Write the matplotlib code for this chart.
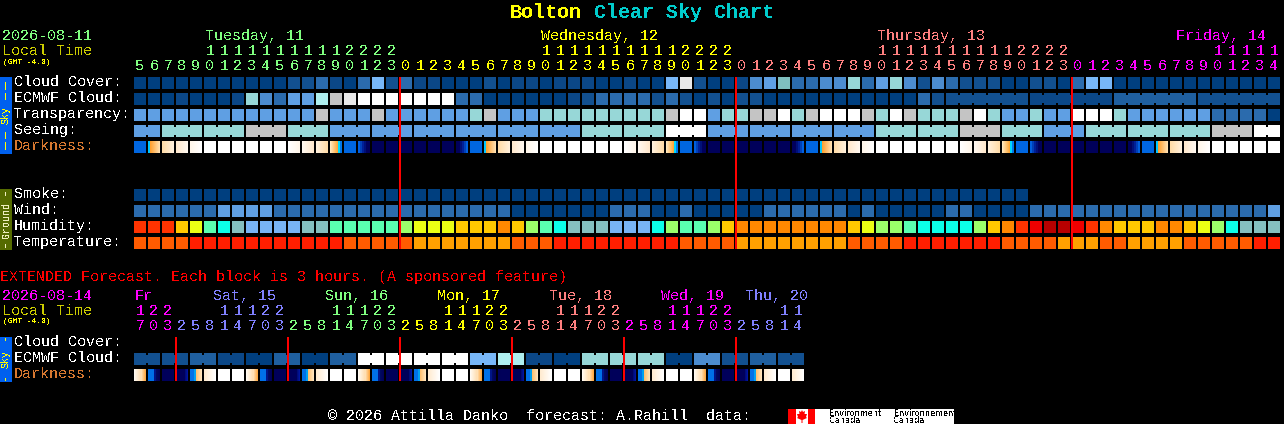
import numpy as np
import matplotlib
matplotlib.use('Agg')
import matplotlib.pyplot as plt
from matplotlib.colors import to_rgb
from matplotlib.patches import Polygon

plt.rcParams['text.antialiased'] = False

# ---- sky colours, darkest blue (clear) to white (bad) ----
sky_colors = {'A': '#003F7F', 'B': '#0B4787', 'C': '#125090', 'Q': '#1F5F9F', 'D': '#2B6BAD',
              'E': '#4C8CCF', 'F': '#5F9FE3', 'G': '#78B7F8', 'H': '#7FBFBF', 'I': '#97D7D7',
              'J': '#AEEEEE', 'K': '#C4C4C4', 'L': '#E9E9E9', 'M': '#FFFFFF'}
humidity_colors = {'R': '#FF3300', 'Y': '#FFC800', 'Z': '#EBFF14', 'M': '#5AFFB0', 'C': '#0CFFE8',
                   'T': '#85BFBF', 'B': '#78B4F5', 'L': '#9BFF6A', 'O': '#FF8800', 'E': '#EE0000',
                   'D': '#B80000'}
temp_colors = {'o': '#FF5B00', 'R': '#FF1E00', 'A': '#FFA000'}

# ---- main forecast, one letter per hour ----
cloud_cover = ('AAAAAAAAAAA' 'CCDBADGCDB'
               'BAAACABBABBBAABAAGLCAABEFHDDEEI'
               'DFIECEDCCCAACCADGG' 'AAAAAAAAAAAA')
ecmwf_cloud = ('AAABAAAB' 'IEDFFJKLMMMMM' 'MMDD' 'AAAAAA' 'BCDDDDCDCACACC'
               'AAAAAAA' 'AAAA' 'DC' 'CCCCCC' 'BBBBBB' 'QQQQQQ' 'CCCCCC')
ecmwf_groups = [1] * 58 + [6, 6, 6, 6]
transparency = ('FFFFFFFFFFFFF' 'K' 'FFF' 'K' 'FFFFFF' 'IK' 'FFF' 'IIIIIIIII'
                'KMMFIIKKMIKMMM' 'KIMKIIIKMIFFIFFMMMI' 'FFFFFF' 'DDDD' 'A')
seeing_groups = [2] + [3] * 26 + [2]
seeing_values = 'FIIKIFFFFFFIIMFFFFIIKIFIIIKM'
darkness = ['b', 'u', 'c3', 'c2', 'c1', 'W', 'W', 'W', 'W', 'W', 'W', 'd1', 'd2', 'd3', 's', 'b', 'a',
            'n', 'n', 'n', 'n', 'n', 'n', 'r',
            'b', 'u', 'c3', 'c2', 'c1', 'W', 'W', 'W', 'W', 'W', 'W', 'd1', 'd2', 'd3', 's', 'b', 'a',
            'n', 'n', 'n', 'n', 'n', 'n', 'r',
            'b', 'u', 'c3', 'c2', 'c1', 'W', 'W', 'W', 'W', 'W', 'W', 'd1', 'd2', 'd3', 's', 'b', 'a',
            'n', 'n', 'n', 'n', 'n', 'n', 'r',
            'b', 'u', 'c3', 'c2', 'c1', 'W', 'W', 'W', 'W', 'W']
smoke = 'A' * 64
wind = ('DDDDDD' 'FFFF' 'DDDDDDDDDDDDDDDDD' 'AAAAAAA' 'DDD' 'AA' 'D' 'AAAAA' 'DDDDDD' 'A' 'D'
        'AAAAA' 'DD' 'AAAA' 'DDDDDDDDDDDDDDDDD' 'F')
humidity = ('RRRYZMCTBBBBTTMMMMMLZ'
            'ZZYYYOYLMCTTTBBBCLMMLYOOOOOOOOY'
            'ZLLMCCCCLYOREDDEROYYYOOYZLCTTT')
temperature = ('oooo' 'RRRRRRRRRRR' 'ooooo' 'AAAAAAA' 'ooo' 'RRRRRRRRR' 'oooo' 'AAAAAAAA' 'oooo'
               'RRRRRRR' 'oooo' 'AAA' 'oo' 'AAAA' 'ooooo' 'RR')

# ---- hours and day headers ----
main_hours = list(range(5, 24)) + list(range(24)) + list(range(24)) + list(range(15))
main_hour_days = [0] * 19 + [1] * 24 + [2] * 24 + [3] * 15
main_days = ['Tuesday, 11', 'Wednesday, 12', 'Thursday, 13', 'Friday, 14']
main_day_x = [205, 541, 877, 1176]
main_day_colors = ['#80FF80', '#FFFF00', '#FF8080', '#FF00FF']
midnight_idx = [19, 43, 67]

# ---- extended forecast, one letter per 3 hour block ----
ext_ecmwf = 'CCQBAQAQMMMMGJBAIIIAECQC'
ext_darkness = ['e', 'f', 'n', 'g', 'h', 'i', 'W', 'W',
                'e', 'f', 'n', 'g', 'h', 'i', 'W', 'W',
                'e', 'f', 'n', 'g', 'h', 'i', 'W', 'W',
                'e', 'f', 'n', 'g', 'h', 'i', 'W', 'W',
                'e', 'f', 'n', 'g', 'h', 'i', 'W', 'W',
                'e', 'f', 'n', 'g', 'h', 'i', 'W', 'i']
ext_hours = [17, 20, 23,
             2, 5, 8, 11, 14, 17, 20, 23,
             2, 5, 8, 11, 14, 17, 20, 23,
             2, 5, 8, 11, 14, 17, 20, 23,
             2, 5, 8, 11, 14, 17, 20, 23,
             2, 5, 8, 11, 14, 17, 20, 23,
             2, 5, 8, 11, 14]
ext_hour_days = [0] * 3 + [1] * 8 + [2] * 8 + [3] * 8 + [4] * 8 + [5] * 8 + [6] * 5
ext_days = ['Fr', 'Sat, 15', 'Sun, 16', 'Mon, 17', 'Tue, 18', 'Wed, 19', 'Thu, 20']
ext_day_x = [135, 213, 325, 437, 549, 661, 745]
ext_day_colors = ['#FF00FF', '#8080FF', '#80FF80', '#FFFF00', '#FF8080', '#FF00FF', '#8080FF']
ext_midnight_idx = [3, 11, 19, 27, 35, 43]

# ---- darkness block shading: (start px, end px, left colour, right colour) ----
shades = {
    'W': [(0, 12, '#FFFFFF', '#FFFFFF')],
    'n': [(0, 12, '#00005A', '#00005A')],
    'b': [(0, 12, '#0066E0', '#0066E0')],
    'u': [(0, 2, '#00C8FF', '#00C8FF'), (2, 12, '#FFA030', '#FFE0B0')],
    's': [(0, 8, '#FFE8BE', '#FFA838'), (8, 10, '#00D8FF', '#00D8FF'), (10, 12, '#0078EC', '#0078EC')],
    'c3': [(0, 12, '#FFDCA8', '#FFF0DC')],
    'c2': [(0, 12, '#FFE8CC', '#FFF8F0')],
    'c1': [(0, 12, '#FFF6EA', '#FFFFFF')],
    'd1': [(0, 12, '#FFFFFF', '#FFF6EA')],
    'd2': [(0, 12, '#FFF8F0', '#FFE8CC')],
    'd3': [(0, 12, '#FFF0DC', '#FFDCA8')],
    'a': [(0, 2, '#0060E0', '#0060E0'), (2, 4, '#0040B8', '#0040B8'), (4, 6, '#002098', '#002098'),
          (6, 8, '#001078', '#001078'), (8, 12, '#00005E', '#00005A')],
    'r': [(0, 4, '#00005A', '#00005E'), (4, 6, '#001078', '#001078'), (6, 8, '#002098', '#002098'),
          (8, 10, '#0040B8', '#0040B8'), (10, 12, '#0060E0', '#0060E0')],
    'e': [(0, 7, '#FFFAF2', '#FFE0B5'), (7, 12, '#FFE0B5', '#FFAA44')],
    'f': [(0, 6, '#0070E8', '#0070E8'), (6, 8, '#001488', '#001488'), (8, 12, '#000A60', '#00005A')],
    'g': [(0, 9, '#00005A', '#00005A'), (9, 12, '#000C78', '#0014A0')],
    'h': [(0, 4, '#0070E8', '#0070E8'), (4, 6, '#00A0F0', '#00A0F0'), (6, 12, '#FFC070', '#FFE4BC')],
    'i': [(0, 12, '#FFEBD0', '#FFFFFF')],
}

X0 = 134
PITCH = 14
BOX = 12
FONT = 'Liberation Mono'
FS = 10.8


def block_x(i):
    return X0 + PITCH * i


def draw_row(ax, values, colors, y, groups=None):
    xs = [block_x(i) for i in range(len(values))]
    cols = [colors[v] for v in values]
    ax.bar(xs, [BOX] * len(xs), width=BOX, bottom=y, color=cols, align='edge',
           linewidth=0, antialiased=False)
    if groups is None:
        return
    # blocks of the same model step are joined, with a notch above and below
    i = 0
    for g in groups:
        for k in range(i, i + g - 1):
            ax.bar(block_x(k) + BOX, 8, width=PITCH - BOX, bottom=y + 2, color=colors[values[k]],
                   align='edge', linewidth=0, antialiased=False)
        i += g


def draw_darkness(ax, codes, y):
    for i, code in enumerate(codes):
        strip = np.zeros((1, BOX, 3))
        for a, b, c1, c2 in shades[code]:
            w = np.linspace(0, 1, b - a)[:, None]
            strip[0, a:b] = (1 - w) * np.array(to_rgb(c1)) + w * np.array(to_rgb(c2))
        x = block_x(i)
        ax.imshow(strip, extent=(x, x + BOX, y + BOX, y), aspect='auto', interpolation='nearest', zorder=2)


def label(ax, x, y, s, color='white', size=FS, **kw):
    ax.text(x, y, s, color=color, fontsize=size, family=FONT, va='baseline', **kw)


def draw_hours(ax, hours, day_idx, day_colors, y_tens, y_ones):
    for i, h in enumerate(hours):
        cx = block_x(i) + 6
        col = day_colors[day_idx[i]]
        if h >= 10:
            label(ax, cx, y_tens, str(h // 10), col, ha='center')
        label(ax, cx, y_ones, str(h % 10), col, ha='center')


def side_bar(ax, y0, y1, color, text, text_color, dashes):
    ax.bar(0, y1 - y0, width=12, bottom=y0, color=color, align='edge', linewidth=0, antialiased=False)
    ax.text(6, (y0 + y1) / 2, text, color=text_color, fontsize=7.2, family=FONT, rotation=90,
            ha='center', va='center', zorder=4)
    for a, b in dashes:
        ax.bar(5, b - a, width=1, bottom=a, color=text_color, align='edge', linewidth=0,
               antialiased=False, zorder=4)


f = plt.figure(figsize=(12.84, 4.24), dpi=100, facecolor='black')
ax = f.add_axes([0, 0, 1, 1])
ax.set_facecolor('black')
ax.axis('off')

# ----title----
label(ax, 510, 18, 'Bolton', '#FFFF00', 14.4, fontweight='bold')
label(ax, 594, 18, 'Clear Sky Chart', '#00CCCC', 14.4, fontweight='bold')

# ----main header----
label(ax, 2, 40, '2026-08-11', '#80FF80')
label(ax, 2, 55, 'Local Time', '#CCCC00')
label(ax, 3, 64, '(GMT -4.0)', '#FFFF00', 5.7)
for name, x, col in zip(main_days, main_day_x, main_day_colors):
    label(ax, x, 40, name, col)
draw_hours(ax, main_hours, main_hour_days, main_day_colors, 55, 70)

# ----sky rows----
sky_rows = [('Cloud Cover:', 77), ('ECMWF Cloud:', 93), ('Transparency:', 109), ('Seeing:', 125)]
for name, y in sky_rows:
    label(ax, 14, y + 9, name)
label(ax, 14, 150, 'Darkness:', '#D87830')
draw_row(ax, cloud_cover, sky_colors, 77)
draw_row(ax, ecmwf_cloud, sky_colors, 93, ecmwf_groups)
draw_row(ax, transparency, sky_colors, 109)
seeing = ''.join(v * g for v, g in zip(seeing_values, seeing_groups))
draw_row(ax, seeing, sky_colors, 125, seeing_groups)
draw_darkness(ax, darkness, 141)
side_bar(ax, 77, 154, '#0060EE', 'Sky', '#FFFF00', [(82, 90), (93, 100), (132, 139), (142, 150)])

# ----ground rows----
ground_rows = [('Smoke:', 189), ('Wind:', 205), ('Humidity:', 221), ('Temperature:', 237)]
for name, y in ground_rows:
    label(ax, 14, y + 9, name)
draw_row(ax, smoke, sky_colors, 189)
draw_row(ax, wind, sky_colors, 205)
draw_row(ax, humidity, humidity_colors, 221)
draw_row(ax, temperature, temp_colors, 237)
side_bar(ax, 189, 250, '#556B00', 'Ground', '#F0F0C0', [(192, 196), (244, 248)])

# midnight lines
for i in midnight_idx:
    ax.bar(block_x(i) - 1, 172, width=2, bottom=77, color='#FF0000', align='edge', linewidth=0,
           antialiased=False, zorder=3)

# ----extended forecast----
label(ax, 0, 281, 'EXTENDED Forecast. Each block is 3 hours. (A sponsored feature)', '#FF0000')
label(ax, 2, 300, '2026-08-14', '#FF00FF')
label(ax, 2, 315, 'Local Time', '#CCCC00')
label(ax, 3, 323, '(GMT -4.0)', '#FFFF00', 5.7)
for name, x, col in zip(ext_days, ext_day_x, ext_day_colors):
    label(ax, x, 300, name, col)
draw_hours(ax, ext_hours, ext_hour_days, ext_day_colors, 315, 330)
label(ax, 14, 346, 'Cloud Cover:')
label(ax, 14, 362, 'ECMWF Cloud:')
label(ax, 14, 378, 'Darkness:', '#D87830')
ext_cloud = ''.join(v * 2 for v in ext_ecmwf)
draw_row(ax, ext_cloud, sky_colors, 353, [2] * len(ext_ecmwf))
draw_darkness(ax, ext_darkness, 369)
side_bar(ax, 337, 382, '#0060EE', 'Sky', '#FFFF00', [(338, 341), (378, 381)])
for i in ext_midnight_idx:
    ax.bar(block_x(i) - 1, 44, width=2, bottom=337, color='#FF0000', align='edge', linewidth=0,
           antialiased=False, zorder=3)

# ----footer and logo----
label(ax, 328, 420, '\u00a9 2026 Attilla Danko  forecast: A.Rahill  data:', 'white')
ax.bar(788, 15, width=166, bottom=409, color='white', align='edge', linewidth=0, antialiased=False)
ax.bar([788, 808], [15, 15], width=[8, 7], bottom=409, color='#FF0000', align='edge', linewidth=0,
       antialiased=False)
leaf = [(802, 410), (803, 412), (805, 411), (804.5, 414), (807, 414), (806, 417), (807, 418),
        (802.5, 420), (802.5, 423), (801.5, 423), (801.5, 420), (797, 418), (798, 417), (797, 414),
        (799.5, 414), (799, 411), (801, 412)]
ax.add_patch(Polygon(leaf, closed=True, facecolor='#FF0000', edgecolor='none', zorder=3))
for x, word in [(829, 'Environment'), (894, 'Environnement')]:
    ax.text(x, 416, word, color='black', fontsize=5.9, family='DejaVu Sans', va='baseline', clip_on=True)
    ax.text(x, 423, 'Canada', color='black', fontsize=5.9, family='DejaVu Sans', va='baseline')

ax.set_xlim(0, 1284)
ax.set_ylim(424, 0)
f.savefig('out.png', dpi=100, facecolor='black')
